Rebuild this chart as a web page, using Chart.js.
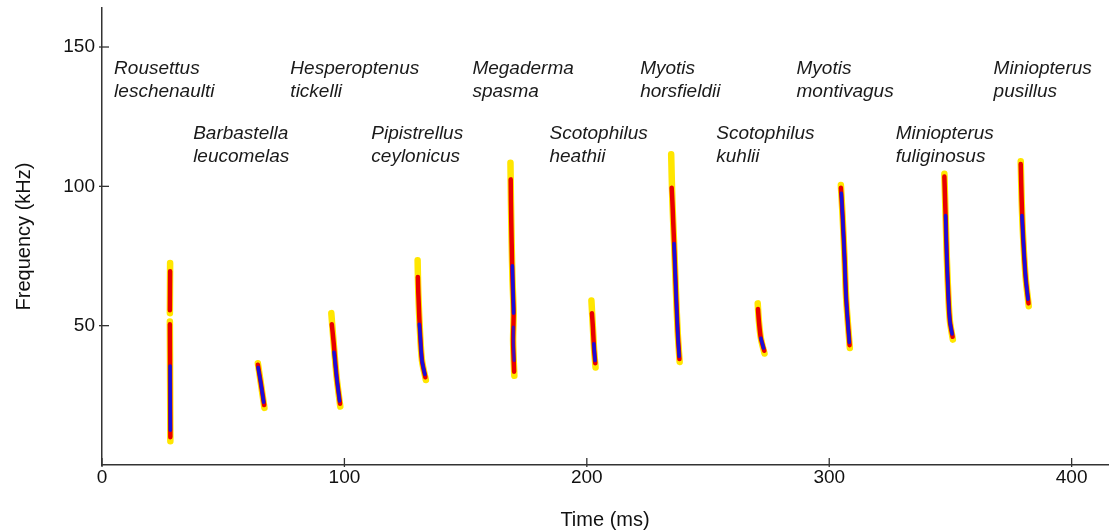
<!DOCTYPE html>
<html>
<head>
<meta charset="utf-8">
<script src="https://cdn.jsdelivr.net/npm/chart.js@4/dist/chart.umd.min.js"></script>
<style>
  html, body { margin: 0; padding: 0; background: #ffffff; }
  #wrap { width: 1112px; height: 532px; position: relative; }
</style>
</head>
<body>
<div id="wrap"><canvas id="c" width="1112" height="532"></canvas></div>
<script>
// ---- Data (time in ms, frequency in kHz) ----
const speciesGenus = ["Rousettus","Barbastella","Hesperoptenus","Pipistrellus","Megaderma","Scotophilus","Myotis","Scotophilus","Myotis","Miniopterus","Miniopterus"];
const speciesEpithet = ["leschenaulti","leucomelas","tickelli","ceylonicus","spasma","heathii","horsfieldii","kuhlii","montivagus","fuliginosus","pusillus"];
const labelTime = [5.0, 37.6, 77.7, 111.1, 152.8, 184.6, 222.0, 253.4, 286.5, 327.4, 367.8];
const labelFreq = [142.2, 119.0, 142.2, 119.0, 142.2, 119.0, 142.2, 119.0, 142.2, 119.0, 142.2];

// Outer (weak, yellow) trace of each call: [time, frequency], null = gap
const haloPaths = [
  [[28.1,72.5],[28.0,54.5],null,[28.0,51.5],[28.1,29.5],[28.2,8.5]],
  [[64.3,36.5],[65.5,29.5],[67.0,20.5]],
  [[94.6,54.5],[95.5,44.5],[96.8,31.5],[98.3,21]],
  [[130.2,73.5],[130.5,61.5],[131.2,47.5],[132.0,37.5],[133.6,30.5]],
  [[168.5,108.5],[168.7,94.5],[169.0,79.5],[169.3,67.5],[169.8,54.5],[169.6,44.5],[170.1,32]],
  [[201.9,59],[202.5,49.5],[203.0,41.5],[203.6,35]],
  [[234.8,111.5],[235.3,94.5],[236.0,79.5],[236.8,61.5],[237.5,47.5],[238.3,37]],
  [[270.5,58],[271.0,51.5],[271.8,45.5],[273.3,40]],
  [[304.8,100.5],[305.5,89.5],[306.3,74.5],[307.0,59.5],[308.5,42]],
  [[347.5,104.5],[348.0,89.5],[348.5,74.5],[349.2,59.5],[349.8,51.5],[351.0,45]],
  [[379.0,109],[379.4,94.5],[380.0,81.5],[381.0,67.5],[382.3,57]]
];
// Strong (red) core of each call
const corePaths = [
  [[28.1,69.5],[28.0,55.5],null,[28.0,50.5],[28.1,29.5],[28.2,10]],
  [[64.3,36],[65.5,29.5],[66.9,21.5]],
  [[94.8,50.5],[95.5,44.5],[96.8,31.5],[98.2,22]],
  [[130.3,67.5],[130.5,61.5],[131.2,47.5],[132.0,37.5],[133.4,31.5]],
  [[168.6,102.5],[168.7,94.5],[169.0,79.5],[169.3,67.5],[169.8,54.5],[169.6,44.5],[170.0,33.5]],
  [[202.1,54.5],[202.5,49.5],[203.0,41.5],[203.5,36.5]],
  [[235.0,99.5],[235.3,94.5],[236.0,79.5],[236.8,61.5],[237.5,47.5],[238.2,38]],
  [[270.6,56],[271.0,51.5],[271.8,45.5],[273.2,41]],
  [[304.8,99.5],[305.5,89.5],[306.3,74.5],[307.0,59.5],[308.4,43]],
  [[347.5,103.5],[348.0,89.5],[348.5,74.5],[349.2,59.5],[349.8,51.5],[350.9,46]],
  [[379.0,108],[379.4,94.5],[380.0,81.5],[381.0,67.5],[382.2,58]]
];
// Strongest (blue) part of each call
const bluePaths = [
  [[28.1,35.5],[28.15,23.5],[28.2,12.5]],
  [[64.4,35],[65.5,29.5],[66.7,22.5]],
  [[95.7,40.5],[96.8,31.5],[98.0,23]],
  [[130.9,50.5],[131.2,47.5],[132.0,37.5],[133.2,32.5]],
  [[169.3,71.5],[169.6,61.5],[169.8,54.5]],
  [[202.9,43.5],[203.4,37.5]],
  [[236.0,79.5],[236.8,61.5],[237.5,47.5],[238.1,39]],
  [[271.8,45.5],[272.9,42]],
  [[305.0,97.5],[305.5,89.5],[306.3,74.5],[307.0,59.5],[308.3,44]],
  [[348.0,89.5],[348.5,74.5],[349.2,59.5],[349.8,51.5],[350.7,47]],
  [[379.5,89.5],[380.0,81.5],[381.0,67.5],[382.0,59.5]]
];
const blueMid = [[169.7,49.5],[169.7,43.5],[170.0,37.5]]; // second blue patch (Megaderma)

const xTickMax = 415;
const yTickMax = 164;

// ---- Build datasets from the arrays ----
function toXY(path) {
  const out = [];
  path.forEach((p, i) => {
    if (p === null) { out.push({ x: path[i - 1][0], y: null }); }
    else out.push({ x: p[0], y: p[1] });
  });
  return out;
}
const datasets = [];
haloPaths.forEach(p => datasets.push({ data: toXY(p), borderColor: '#ffe600', borderWidth: 6.5, order: 3 }));
corePaths.forEach(p => datasets.push({ data: toXY(p), borderColor: '#e80000', borderWidth: 4.5, order: 2 }));
bluePaths.forEach(p => datasets.push({ data: toXY(p), borderColor: '#1a10d8', borderWidth: 3.5, order: 1 }));
datasets.push({ data: toXY(blueMid), borderColor: 'rgba(40,20,210,0.85)', borderWidth: 3, order: 1 });
datasets.forEach(d => { d.type = 'line'; d.pointRadius = 0; d.spanGaps = false; d.tension = 0.3; d.borderCapStyle = 'round'; d.borderJoinStyle = 'round'; d.fill = false; });

const FONT = "'Liberation Sans', Arial, sans-serif";

const innerTicks = {
  id: 'innerTicks',
  afterDraw(chart) {
    const ctx = chart.ctx, xs = chart.scales.x, ys = chart.scales.y, a = chart.chartArea;
    ctx.save();
    ctx.strokeStyle = '#333';
    ctx.lineWidth = 1.3;
    xs.ticks.forEach(t => {
      const px = xs.getPixelForValue(t.value);
      ctx.beginPath(); ctx.moveTo(px, a.bottom + 2); ctx.lineTo(px, a.bottom - 7); ctx.stroke();
    });
    ys.ticks.forEach(t => {
      if (t.value === 0) return;
      const py = ys.getPixelForValue(t.value);
      ctx.beginPath(); ctx.moveTo(a.left - 3, py); ctx.lineTo(a.left + 7, py); ctx.stroke();
    });
    ctx.restore();
  }
};

const speciesLabels = {
  id: 'speciesLabels',
  afterDatasetsDraw(chart) {
    const ctx = chart.ctx, xs = chart.scales.x, ys = chart.scales.y;
    ctx.save();
    ctx.fillStyle = '#1a1a1a';
    ctx.font = "italic 19px " + FONT;
    ctx.textAlign = 'left';
    ctx.textBaseline = 'middle';
    speciesGenus.forEach((g, i) => {
      const px = xs.getPixelForValue(labelTime[i]);
      const py = ys.getPixelForValue(labelFreq[i]);
      ctx.fillText(g, px, py);
      ctx.fillText(speciesEpithet[i], px, py + 23);
    });
    ctx.restore();
  }
};

new Chart(document.getElementById('c'), {
  type: 'line',
  data: { datasets },
  options: {
    responsive: false,
    animation: false,
    events: [],
    layout: { padding: { top: 8, right: 4, left: 0, bottom: 0 } },
    plugins: { legend: { display: false }, tooltip: { enabled: false } },
    scales: {
      x: {
        type: 'linear', min: 0, max: xTickMax,
        afterFit(s) { s.height = 67; },
        border: { display: true, color: '#333', width: 1.5 },
        grid: { display: true, drawOnChartArea: false, drawTicks: false },
        ticks: { stepSize: 100, includeBounds: false, padding: 1, color: '#111', font: { family: FONT, size: 19 } },
        title: { display: true, text: 'Time (ms)', color: '#111', font: { family: FONT, size: 20 }, padding: { top: 12, bottom: 0 } }
      },
      y: {
        type: 'linear', min: 0, max: yTickMax,
        afterFit(s) { s.width = 102; s.paddingTop = 0; },
        border: { display: true, color: '#333', width: 1.5 },
        grid: { display: true, drawOnChartArea: false, drawTicks: false },
        ticks: { stepSize: 50, includeBounds: false, padding: 7, color: '#111', font: { family: FONT, size: 19 },
                 callback: v => (v === 0 ? '' : String(v)) },
        title: { display: true, text: 'Frequency (kHz)', color: '#111', font: { family: FONT, size: 20 }, padding: { top: 12, bottom: 0 } }
      }
    }
  },
  plugins: [innerTicks, speciesLabels]
});
</script>
</body>
</html>
